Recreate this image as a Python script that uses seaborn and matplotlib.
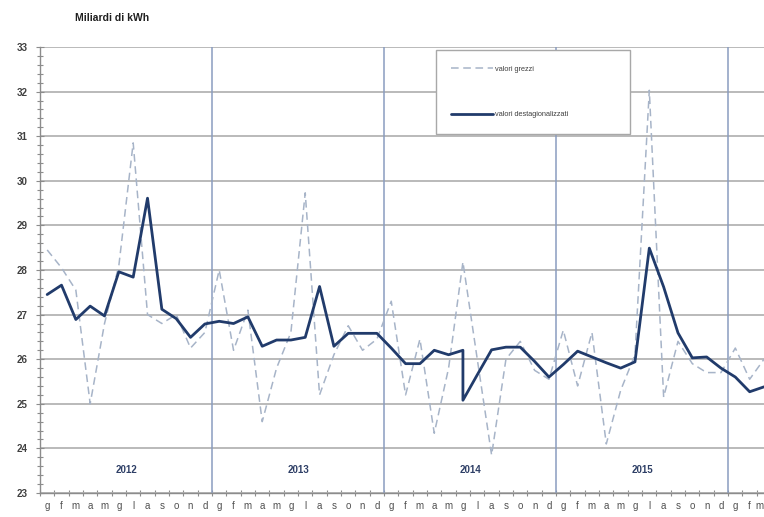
import matplotlib
matplotlib.use("Agg")
import matplotlib.pyplot as plt
import matplotlib.ticker as mticker
import numpy as np
import pandas as pd
import seaborn as sns

# ---- data ----
anni = [2012, 2013, 2014, 2015]
mesi = ["g", "f", "m", "a", "m", "g", "l", "a", "s", "o", "n", "d"] * 4 + ["g", "f", "m"]

valori_grezzi = [
    28.45, 28.05, 27.55, 25.00, 26.80, 28.10, 30.85, 27.00, 26.80, 27.00, 26.25, 26.60,
    28.00, 26.20, 27.10, 24.60, 25.80, 26.60, 29.73, 25.20, 26.10, 26.75, 26.20, 26.45,
    27.30, 25.20, 26.45, 24.34, 25.80, 28.18, 26.00, 23.85, 26.00, 26.40, 25.75, 25.55,
    26.65, 25.40, 26.60, 24.10, 25.30, 26.10, 32.03, 25.15, 26.40, 25.90, 25.70, 25.70,
    26.25, 25.55, 26.00,
]

# month index of each deseasonalised value (June 2014 carries two values: vertical drop)
mese_destag = list(range(30)) + [29] + list(range(30, 51))
valori_destag = [
    27.45, 27.66, 26.89, 27.19, 26.97, 27.96, 27.84, 29.61, 27.12, 26.91, 26.49, 26.79,
    26.85, 26.80, 26.95, 26.29, 26.43, 26.43, 26.49, 27.63, 26.29, 26.58, 26.58, 26.58,
    26.25, 25.90, 25.90, 26.20, 26.10, 26.20, 25.08, 25.65, 26.21, 26.27, 26.27, 25.95, 25.60,
    25.88, 26.18, 26.05, 25.92, 25.80, 25.94, 28.49, 27.62, 26.59, 26.03, 26.05, 25.80,
    25.60, 25.27, 25.38,
]

etichette = ["valori grezzi", "valori destagionalizzati"]
titolo = "Miliardi di kWh"

# ---- style ----
sns.set_style("white")
plt.rcParams["font.family"] = ["Liberation Sans", "DejaVu Sans"]

W, H = 764, 517
fig = plt.figure(figsize=(W / 100, H / 100), dpi=100)
ax = fig.add_axes([40 / W, 24 / H, 1 - 40 / W, 446 / H])

df_g = pd.DataFrame({"mese": np.arange(len(valori_grezzi)), "valore": valori_grezzi})
df_d = pd.DataFrame({"mese": mese_destag, "valore": valori_destag})

sns.lineplot(data=df_g, x="mese", y="valore", ax=ax, color="#A7B4C8", lw=1.1,
             dashes=False, estimator=None, sort=False, label=etichette[0])
ax.lines[-1].set_dashes((5, 3))
sns.lineplot(data=df_d, x="mese", y="valore", ax=ax, color="#213B6B", lw=2.0,
             estimator=None, sort=False, label=etichette[1])

ax.set_xlim(-0.5, len(mesi) - 1)
ax.set_ylim(23, 33)
ax.set_xlabel("")
ax.set_ylabel("")

# y axis
ax.yaxis.set_major_locator(mticker.MultipleLocator(1))
ax.yaxis.set_minor_locator(mticker.MultipleLocator(0.2))
ax.yaxis.grid(True, which="major", color="#B4B4B4", lw=1.3)
ax.tick_params(axis="y", which="major", direction="inout", length=6, width=0.8,
               color="#8C8C8C", labelsize=7, labelcolor="#404040", pad=6, left=True)
ax.tick_params(axis="y", which="minor", direction="inout", length=4, width=0.8,
               color="#8C8C8C", left=True)
for t in ax.get_yticklabels():
    t.set_fontweight("bold")

# x axis
ax.xaxis.set_major_locator(mticker.FixedLocator(np.arange(len(mesi))))
ax.xaxis.set_major_formatter(mticker.FixedFormatter(mesi))
ax.xaxis.set_minor_locator(mticker.FixedLocator(np.arange(-0.5, len(mesi), 1)))
ax.tick_params(axis="x", which="major", length=0, labelsize=7, labelcolor="#505050", pad=6)
ax.tick_params(axis="x", which="minor", direction="inout", length=5, width=0.8,
               color="#8C8C8C", bottom=True)
fig.canvas.draw()
ax.get_xticklabels()[-1].set_horizontalalignment("right")

for s in ["top", "right"]:
    ax.spines[s].set_visible(False)
for s in ["left", "bottom"]:
    ax.spines[s].set_color("#8C8C8C")
    ax.spines[s].set_linewidth(1.0)

# year separators and labels
for k, anno in enumerate(anni):
    ax.axvline(12 * (k + 1) - 0.5, color="#8A9CC0", lw=1.1, zorder=1)
    ax.text(12 * k + 5.5, 23.52, str(anno), ha="center", va="center",
            fontsize=7, fontweight="bold", color="#2E3F66")

# legend
leg = ax.legend(loc="upper left", bbox_to_anchor=(0.547, 0.818, 0.268, 0.175),
                mode="expand", fontsize=5.3, labelspacing=5.2, borderpad=2.1,
                handlelength=5.6, handletextpad=0.3, frameon=True, fancybox=False,
                framealpha=1, edgecolor="#A8A8A8", borderaxespad=0)
leg.get_frame().set_linewidth(1.0)
for t in leg.get_texts():
    t.set_color("#404040")

fig.text(75 / W, 1 - 18 / H, titolo, ha="left", va="center", fontsize=7.5,
         fontweight="bold", color="#202020")

fig.savefig("out.png", dpi=100, facecolor="white")
